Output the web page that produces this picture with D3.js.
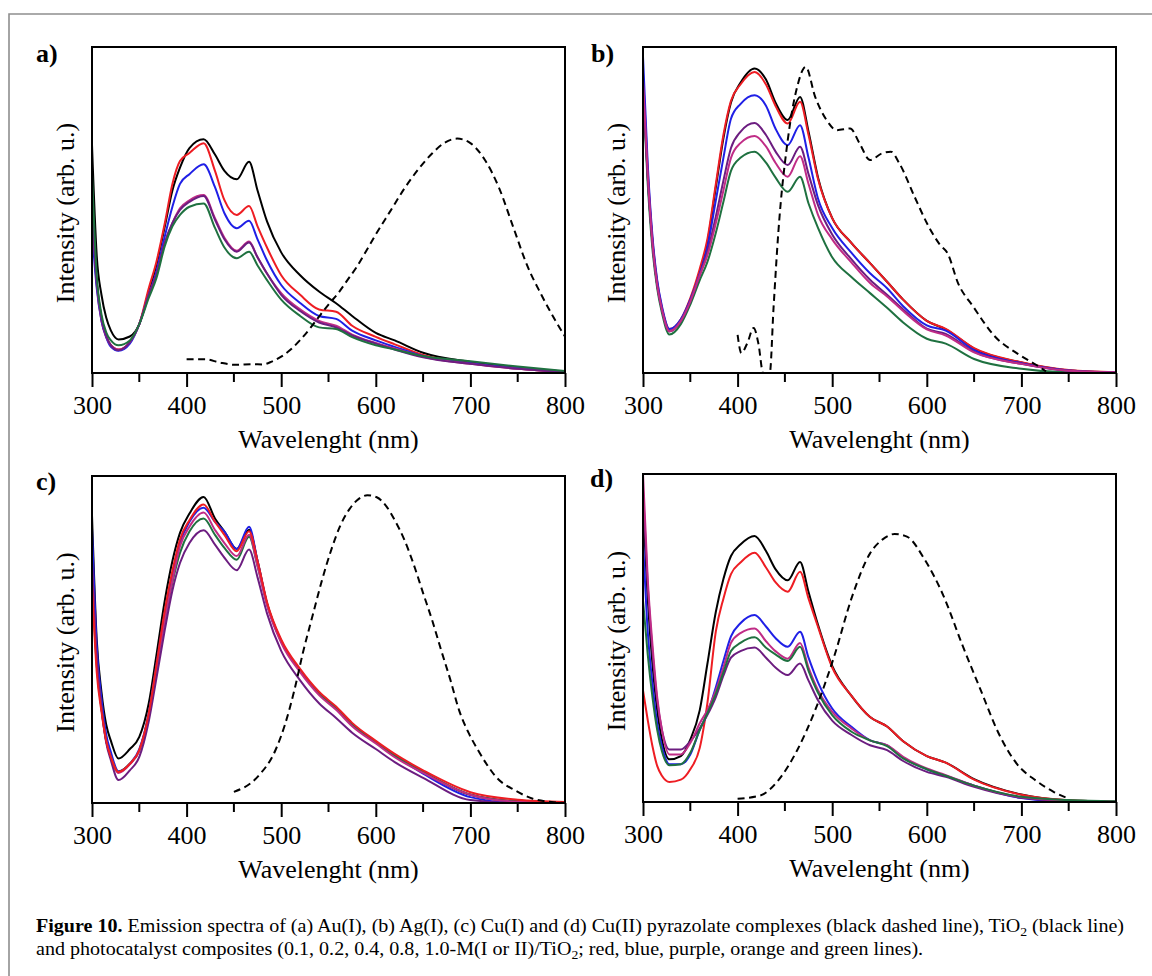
<!DOCTYPE html>
<html>
<head>
<meta charset="utf-8">
<script src="https://cdn.jsdelivr.net/npm/d3@7"></script>
<style>
  body { margin: 0; background: #fff; }
  svg { display: block; }
  text { font-family: "Liberation Serif", "Times New Roman", serif; fill: #000; }
</style>
</head>
<body>
<div id="chart"></div>
<script>
// Wavelength grid (nm) shared by the solid spectra of all four panels
const wavelengths = [300, 305, 310, 315, 320, 328, 340, 350, 360, 368, 377, 385, 393, 403, 418, 430,
  440, 453, 466, 475, 485, 500, 520, 540, 558, 575, 600, 620, 650, 700, 750, 800];

const seriesNames = ["TiO2", "0.1", "0.2", "0.4", "0.8", "1.0"];

// Intensities in % of the plot height
// a) Au(I)
const aTiO2 = [70, 36, 24, 17, 13, 10.3, 11.2, 15, 25, 33, 45, 56, 63, 69, 71.7, 67, 62, 59.4, 64.8, 56, 46.5, 37, 30, 25, 21.4, 17.5, 12.3, 10, 6.2, 3.4, 1.6, 0.4];
const a01 = [50, 27, 16, 11, 8.5, 7.2, 9.5, 15, 26, 34, 46, 58, 65, 67.5, 70.5, 62, 53, 48.5, 51.2, 45, 38.5, 30, 24, 19.5, 18.8, 14.5, 11.1, 8.8, 5.5, 3, 1.4, 0.3];
const a02 = [44, 26, 16, 11, 8, 6.8, 9, 15, 24, 31, 42, 51, 58, 61, 64, 57, 49, 44.4, 46.7, 41, 34.5, 27, 21.5, 17.5, 16.6, 13, 10, 8, 5.2, 3, 1.5, 0.4];
const a04 = [50, 28, 17, 11.5, 8.5, 7, 9.5, 15, 24, 30, 40, 46, 50, 52.5, 54.3, 47, 41, 37.2, 40, 35.5, 30.5, 24, 19, 15.5, 14, 11.5, 9, 7.2, 4.8, 2.8, 1.3, 0.3];
const a08 = [52, 28, 17, 11.5, 8.5, 7.2, 9.5, 15, 24, 30, 40, 46, 50.5, 53, 54.6, 47.5, 41.5, 37.5, 40.3, 35.5, 30.5, 24.5, 19.5, 16, 14.5, 11.8, 9.2, 7.5, 5, 2.8, 1.3, 0.3];
const a10 = [61, 30, 18, 12.5, 10, 8.5, 10, 15, 23, 29, 39, 45, 48.5, 51, 52, 44.5, 38.5, 35.2, 37.2, 33, 28.5, 22.5, 17.5, 14, 13.5, 11, 8.5, 7.2, 5.2, 3.6, 2, 0.6];
const aDashX = [400, 420, 435, 452, 470, 480, 490, 500, 510, 520, 530, 540, 550, 560, 570, 580, 590, 600, 615, 630, 645, 660, 672, 686, 700, 715, 730, 745, 760, 775, 790, 800];
const aDashY = [4.2, 4.2, 3.2, 2.5, 2.7, 2.6, 3.5, 5, 7.2, 10.1, 13.5, 17.3, 21, 24.4, 28.5, 32.6, 37.5, 42.5, 49.5, 56.5, 62.5, 67.5, 70.5, 71.9, 70.5, 65.5, 57, 45, 33, 24, 16, 11.2];

// b) Ag(I)
const bTiO2 = [90, 60, 40, 27, 19.5, 12.8, 16, 22.4, 31, 40, 57, 72, 83, 89, 93.4, 90, 83, 77.6, 84.7, 74, 60, 47.5, 40, 33.7, 28, 22.5, 16, 13.4, 7.5, 3.2, 0.8, 0.2];
const b01 = [92, 62, 41, 28, 20, 13.5, 16.5, 23, 32, 41, 58, 73, 83.5, 88.5, 92.3, 88.5, 82, 76.5, 83.2, 73, 59.5, 47.5, 40, 33.7, 28, 22.5, 16, 13.5, 7.6, 3.3, 0.9, 0.2];
const b02 = [97, 64, 42, 28.5, 20.5, 13.5, 16.5, 22.5, 30.5, 38.5, 53, 66, 78, 82.5, 85.2, 82, 75, 69.9, 76, 66, 53.5, 44.5, 37, 30.6, 26, 20.5, 14.6, 13, 7, 3, 0.8, 0.2];
const b04 = [88, 60, 40, 27, 19.5, 12.8, 16, 22, 30, 37, 48, 59, 69, 74, 76.7, 73, 68, 63.8, 69.4, 61, 51.5, 42.5, 35, 28.6, 24, 19.5, 13.6, 12, 6.5, 2.8, 0.7, 0.2];
const b08 = [90, 61, 40, 27, 19.5, 12.8, 16, 22, 30, 36, 46, 56, 66, 70.5, 72.7, 69.5, 64.5, 60.2, 66.5, 58, 48.5, 41, 34, 27.6, 23.5, 19, 13.4, 11.5, 6.3, 2.8, 0.7, 0.2];
const b10 = [86, 58, 38, 26, 18.5, 11.8, 15, 21, 28.5, 34, 43, 52.5, 62, 66, 67.9, 64.5, 60, 55.6, 60.2, 52, 44.5, 35.5, 29.5, 24.5, 20, 15.5, 10.5, 9, 4.3, 1.3, 0.2, 0.1];
const bDashX = [400, 404, 410, 417, 422, 427, 434, 438, 443, 453, 463, 472, 482, 494, 505, 519, 529, 540, 552, 562, 571, 587, 602, 614, 622, 633, 649, 672, 695, 715, 726];
const bDashY = [11.7, 6.1, 9, 13.8, 9, 0, 0, 20, 42.9, 71.4, 87.8, 93.9, 84.7, 77.6, 74.5, 75, 70.4, 65.3, 67.3, 67.9, 64.3, 54.1, 44.9, 39.3, 36.7, 27.6, 20.4, 11.2, 6.1, 2.6, 0.5];

// c) Cu(I)
const cTiO2 = [88, 50, 34, 24, 19, 13.6, 16.5, 20.2, 30.5, 45, 62, 74, 82.6, 88.5, 93.6, 87, 83, 77.7, 83.6, 74, 61, 49.5, 40.5, 33.5, 29, 24, 18.5, 14.5, 9.5, 2.5, 0.5, 0.2];
const c01 = [67, 40, 28, 19, 14, 9.5, 12, 16.2, 27.4, 42, 59, 71, 80.6, 86.5, 91.3, 86, 82, 77, 83.1, 74, 61.5, 50, 41, 34, 29.5, 24.5, 19, 15, 10, 3.3, 1, 0.3];
const c02 = [84, 48, 32, 21, 15.5, 9.7, 12, 16.5, 27.5, 42, 58, 70, 79.5, 86, 90.3, 86, 83, 77.7, 84.5, 74, 61, 49.5, 40.5, 33.5, 29, 24, 18.5, 14.5, 9, 1.8, 0, 0];
const c04 = [74, 44, 29, 18.5, 13, 7, 10, 14.1, 25, 38, 53, 65, 73.4, 79.5, 83.4, 79, 75, 71.2, 77.5, 69, 58, 46.5, 37.5, 30.5, 26, 21.5, 16.5, 12.5, 7.7, 0.9, 0, 0];
const c08 = [72, 43, 29, 19, 14, 9.2, 11.8, 16, 27, 41, 56, 68, 78.5, 84.5, 88.8, 83.5, 79.5, 75.5, 82, 72.5, 60.5, 49, 40, 33, 28.5, 23.5, 18.2, 14, 9.2, 2.5, 0.4, 0.2];
const c10 = [69, 42, 29, 19, 14, 9.5, 12, 16, 27, 41, 56, 67.5, 76.5, 83, 87, 82, 78, 74.4, 81.4, 72.5, 61, 49.5, 40.5, 33.5, 29, 24, 18.5, 14.5, 9.5, 2.6, 0.5, 0.2];
const cDashX = [450, 475, 494, 504, 514, 523, 533, 543, 553, 562, 572, 582, 591, 601, 611, 620, 630, 640, 650, 660, 669, 679, 688, 698, 708, 718, 727, 747, 766, 786, 800];
const cDashY = [3.4, 8, 16.2, 24, 34.6, 46, 57.1, 68, 77.5, 84.5, 89.8, 93, 94.1, 93.5, 90.8, 86.5, 80.6, 73, 64.2, 55.5, 46.8, 37.5, 28.4, 21.5, 16.2, 11.5, 8, 3.9, 1.3, 0.3, 0];

// d) Cu(II)
const dTiO2 = [90, 62, 42, 28, 19, 13, 14, 19, 28, 42, 58, 68, 75, 78.5, 81.1, 76.5, 71, 67.6, 73.2, 64, 54, 41.5, 32.5, 25.9, 23, 18.5, 14, 12, 7, 2.3, 0.5, 0.1];
const d01 = [34, 25, 17, 11, 8, 6.1, 6.8, 10, 16.5, 30, 52, 62, 69.5, 73, 76, 71.5, 67, 64.1, 70.2, 62, 53.4, 41, 32.5, 25.9, 23, 18.5, 14, 12, 6.8, 2.2, 0.5, 0.1];
const d02 = [80, 52, 36, 24, 17, 11.5, 11.5, 14.5, 22, 27, 35, 43, 50.5, 54.5, 57, 53.5, 50, 47.3, 51.9, 44, 36.5, 28.5, 23, 18.8, 17.3, 13.5, 10, 8, 5, 1.2, 0.1, 0];
const d04 = [95, 66, 46, 31, 22, 16, 16, 18.5, 22.5, 26.5, 32, 38.5, 44, 46, 47.1, 44, 41, 38.7, 42.2, 37, 31, 24.8, 20.5, 17.3, 15.8, 12.5, 9.2, 7.7, 4.6, 1.3, 0.3, 0.1];
const d08 = [100, 68, 48, 32, 22, 14.5, 14.5, 18, 24, 28, 34, 41, 48.5, 51.5, 52.9, 49, 46, 43.7, 48.5, 41, 34.1, 27.5, 22.5, 18.8, 17.3, 13.8, 10.2, 8.2, 5, 1.5, 0.4, 0.1];
const d10 = [61.5, 45, 32, 22, 15.5, 11.2, 11.5, 15, 22, 27, 33, 39.5, 46, 48.5, 50.2, 47, 45, 43, 47.3, 40, 33.3, 26.5, 21.5, 18.8, 17, 13.3, 10, 8, 5, 1.6, 0.6, 0.2];
const dDashX = [400, 424, 443, 463, 482, 502, 521, 540, 553, 566, 579, 598, 618, 637, 657, 676, 695, 715, 734, 750];
const dDashY = [1, 2, 6.6, 15.8, 28, 44.3, 62.6, 75.8, 80, 81.7, 80.9, 73.8, 62.6, 48.3, 34.1, 20.9, 11.7, 6.6, 3.1, 1];

const xTicks = [300, 400, 500, 600, 700, 800];
const xMinorTicks = [350, 450, 550, 650, 750];

const colors = {
  "TiO2": "#000000",
  "0.1": "#ee1d23",
  "0.2": "#1f1fe6",
  "0.4": "#6c1d80",
  "0.8": "#c02c86",
  "1.0": "#1f7140"
};

const panels = [
  {id: "a", label: "a)", box: [92, 47, 565, 373], lab: [36, 62],
   series: [aTiO2, a01, a02, a04, a08, a10], order: [0, 1, 2, 4, 3, 5], dashX: aDashX, dashY: aDashY},
  {id: "b", label: "b)", box: [643, 47, 1116, 373], lab: [591, 62],
   series: [bTiO2, b01, b02, b04, b08, b10], order: [0, 1, 5, 2, 3, 4], dashX: bDashX, dashY: bDashY},
  {id: "c", label: "c)", box: [92, 476, 565, 803], lab: [36, 490],
   series: [cTiO2, c01, c02, c04, c08, c10], order: [0, 2, 5, 4, 3, 1], dashX: cDashX, dashY: cDashY},
  {id: "d", label: "d)", box: [643, 474, 1116, 802], lab: [590, 487],
   series: [dTiO2, d01, d02, d04, d08, d10], order: [0, 1, 2, 3, 4, 5], dashX: dDashX, dashY: dDashY}
];

const width = 1152, height = 976;

const svg = d3.select("#chart").append("svg")
  .attr("width", width)
  .attr("height", height);

svg.append("rect").attr("width", width).attr("height", height).attr("fill", "#fff");

// Grey frame of the figure (top and left edges are visible)
svg.append("path")
  .attr("d", `M9,${height} V14 H${width}`)
  .attr("fill", "none")
  .attr("stroke", "#8e8e8e")
  .attr("stroke-width", 1.6);

panels.forEach(p => {
  const [x0, y0, x1, y1] = p.box;

  const xScale = d3.scaleLinear().domain([300, 800]).range([x0, x1]);
  const yScale = d3.scaleLinear().domain([0, 100]).range([y1, y0]);

  const g = svg.append("g").attr("class", "panel-" + p.id);

  g.append("clipPath").attr("id", "clip-" + p.id)
    .append("rect")
    .attr("x", x0).attr("y", y0 - 1)
    .attr("width", x1 - x0).attr("height", y1 - y0 + 1);

  const plot = g.append("g").attr("clip-path", `url(#clip-${p.id})`);

  const line = d3.line()
    .x(d => xScale(d[0]))
    .y(d => yScale(d[1]))
    .curve(d3.curveMonotoneX);

  // Solid spectra
  p.order.forEach(i => {
    const pts = wavelengths.map((w, k) => [w, p.series[i][k]]);
    plot.append("path")
      .attr("class", "line-path")
      .attr("d", line(pts))
      .attr("fill", "none")
      .attr("stroke", colors[seriesNames[i]])
      .attr("stroke-width", 2)
      .attr("stroke-linejoin", "round");
  });

  // Pyrazolate complex (dashed)
  const dashPts = p.dashX.map((w, k) => [w, p.dashY[k]]);
  plot.append("path")
    .attr("d", line(dashPts))
    .attr("fill", "none")
    .attr("stroke", "#000")
    .attr("stroke-width", 2)
    .attr("stroke-dasharray", "7,4.5");

  // Bottom axis with major and minor ticks
  const xAxis = d3.axisBottom(xScale)
    .tickValues(xTicks)
    .tickSize(14)
    .tickPadding(9)
    .tickFormat(d3.format("d"));

  const xAxisG = g.append("g")
    .attr("transform", `translate(0,${y1})`)
    .call(xAxis);
  xAxisG.select(".domain").remove();
  xAxisG.selectAll(".tick line").attr("stroke", "#000").attr("stroke-width", 2);
  xAxisG.selectAll(".tick text")
    .style("font-family", "'Liberation Serif', 'Times New Roman', serif")
    .style("font-size", "26px")
    .attr("fill", "#000");

  g.append("g").selectAll("line")
    .data(xMinorTicks)
    .join("line")
    .attr("x1", d => xScale(d)).attr("x2", d => xScale(d))
    .attr("y1", y1).attr("y2", y1 + 9)
    .attr("stroke", "#000")
    .attr("stroke-width", 2);

  // Plot frame
  g.append("rect")
    .attr("x", x0).attr("y", y0)
    .attr("width", x1 - x0).attr("height", y1 - y0)
    .attr("fill", "none")
    .attr("stroke", "#000")
    .attr("stroke-width", 2);

  // Axis titles
  g.append("text")
    .attr("class", "axis-label")
    .attr("x", (x0 + x1) / 2)
    .attr("y", y1 + 75)
    .attr("text-anchor", "middle")
    .style("font-size", "26px")
    .text("Wavelenght (nm)");

  g.append("text")
    .attr("class", "axis-label")
    .attr("transform", `translate(${x0 - 18.5},${(y0 + y1) / 2 + 3}) rotate(-90)`)
    .attr("text-anchor", "middle")
    .style("font-size", "26px")
    .text("Intensity (arb. u.)");

  // Panel letter
  g.append("text")
    .attr("x", p.lab[0])
    .attr("y", p.lab[1])
    .style("font-size", "26px")
    .style("font-weight", "bold")
    .text(p.label);
});

// Caption
const caption = svg.append("g").attr("class", "caption");
const line1 = caption.append("text").attr("y", 0).style("font-size", "19px");
line1.append("tspan").style("font-weight", "bold").text("Figure 10.");
line1.append("tspan").text(" Emission spectra of (a) Au(I), (b) Ag(I), (c) Cu(I) and (d) Cu(II) pyrazolate complexes (black dashed line), TiO");
line1.append("tspan").attr("dy", 4).style("font-size", "13px").text("2");
line1.append("tspan").attr("dy", -4).text(" (black line)");

const line2 = caption.append("text").attr("y", 23).style("font-size", "19px");
line2.append("tspan").text("and photocatalyst composites (0.1, 0.2, 0.4, 0.8, 1.0-M(I or II)/TiO");
line2.append("tspan").attr("dy", 4).style("font-size", "13px").text("2");
line2.append("tspan").attr("dy", -4).text("; red, blue, purple, orange and green lines).");

// stretch the caption so the first line spans the page like the original
const w1 = line1.node().getBBox().width;
caption.attr("transform", `translate(36,932) scale(${1089 / w1},1)`);
</script>
</body>
</html>
